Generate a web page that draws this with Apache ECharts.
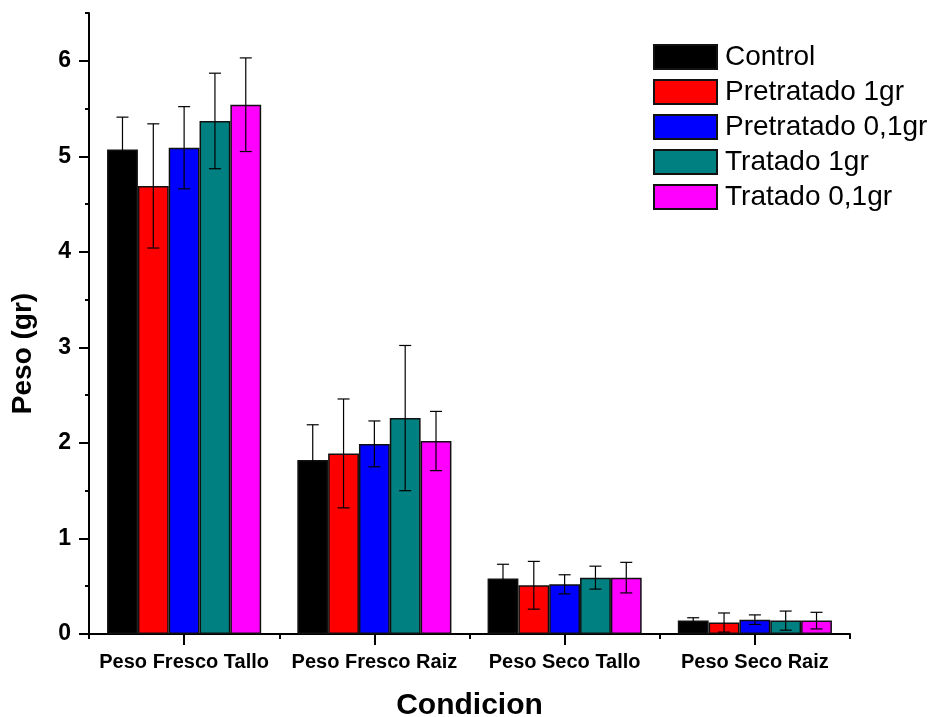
<!DOCTYPE html>
<html>
<head>
<meta charset="utf-8">
<title>Peso por condicion</title>
<script src="https://cdn.jsdelivr.net/npm/echarts@6/dist/echarts.min.js"></script>
<style>
  html, body { margin: 0; padding: 0; background: #fff; }
  #chart { width: 934px; height: 717px; }
</style>
</head>
<body>
<div id="chart"></div>
<script>
// datos
const categories = ['Peso Fresco Tallo', 'Peso Fresco Raiz', 'Peso Seco Tallo', 'Peso Seco Raiz']
const seriesNames = ['Control', 'Pretratado 1gr', 'Pretratado 0,1gr', 'Tratado 1gr', 'Tratado 0,1gr']
const control = [5.07, 1.82, 0.58, 0.14]
const controlErr = [0.34, 0.37, 0.15, 0.03]
const pre1 = [4.69, 1.89, 0.51, 0.12]
const pre1Err = [0.65, 0.57, 0.25, 0.1]
const pre01 = [5.09, 1.99, 0.52, 0.15]
const pre01Err = [0.43, 0.24, 0.1, 0.05]
const trat1 = [5.37, 2.26, 0.59, 0.14]
const trat1Err = [0.5, 0.76, 0.12, 0.1]
const trat01 = [5.54, 2.02, 0.59, 0.14]
const trat01Err = [0.49, 0.31, 0.16, 0.087]
const yTicks = [0, 1, 2, 3, 4, 5, 6]
const yMinorTicks = [0.5, 1.5, 2.5, 3.5, 4.5, 5.5, 6.5]

const values = [control, pre1, pre01, trat1, trat01]
const errors = [controlErr, pre1Err, pre01Err, trat1Err, trat01Err]
const colors = ['#000000', '#ff0000', '#0000ff', '#008080', '#ff00ff']
const catGap = 0.19
const font = 'Liberation Sans, Arial, Helvetica, sans-serif'

const chart = echarts.init(document.getElementById('chart'))

// barra de error simetrica, desplazada segun la posicion de la barra en el grupo
function errorRenderer (idx) {
  return function (params, api) {
    const ci = api.value(0)
    const v = api.value(1)
    const e = api.value(2)
    const band = api.size([1, 0])[0]
    const barW = band * (1 - catGap) / values.length
    const x = api.coord([ci, 0])[0] + (idx - (values.length - 1) / 2) * barW
    const yTop = api.coord([ci, v + e])[1]
    const yBot = api.coord([ci, v - e])[1]
    const cap = 6
    const style = { stroke: '#000', lineWidth: 1.2 }
    return {
      type: 'group',
      children: [
        { type: 'line', shape: { x1: x, y1: yTop, x2: x, y2: yBot }, style },
        { type: 'line', shape: { x1: x - cap, y1: yTop, x2: x + cap, y2: yTop }, style },
        { type: 'line', shape: { x1: x - cap, y1: yBot, x2: x + cap, y2: yBot }, style }
      ]
    }
  }
}

const barSeries = seriesNames.map((name, i) => ({
  name: name,
  type: 'bar',
  xAxisIndex: 0,
  yAxisIndex: 0,
  data: values[i],
  barGap: '0%',
  barCategoryGap: (catGap * 100) + '%',
  itemStyle: {
    color: colors[i],
    borderColor: '#111',
    borderWidth: 1.5
  },
  emphasis: { disabled: true },
  z: 2
}))

const errSeries = seriesNames.map((name, i) => ({
  type: 'custom',
  xAxisIndex: 0,
  yAxisIndex: 0,
  renderItem: errorRenderer(i),
  encode: { x: 0, y: 1 },
  data: values[i].map((v, k) => [k, v, errors[i][k]]),
  z: 5,
  silent: true
}))

const option = {
  backgroundColor: '#fff',
  animation: false,
  textStyle: { fontFamily: font },
  grid: { left: 89, right: 84, top: 13, bottom: 83, outerBoundsMode: 'none', containLabel: false },
  legend: {
    data: seriesNames,
    orient: 'vertical',
    left: 648,
    top: 38,
    itemWidth: 63,
    itemHeight: 24,
    itemGap: 7,
    icon: 'rect',
    selectedMode: false,
    textStyle: { fontSize: 28, color: '#000', fontFamily: font, padding: [0, 0, 0, 3] }
  },
  xAxis: [
    {
      type: 'category',
      data: categories,
      name: 'Condicion',
      nameLocation: 'middle',
      nameGap: 57,
      nameTextStyle: { fontSize: 30, fontWeight: 'bold', color: '#000', fontFamily: font },
      axisLine: { lineStyle: { color: '#000', width: 2 } },
      axisTick: { show: true, alignWithLabel: true, length: 11, lineStyle: { color: '#000', width: 2 } },
      axisLabel: { interval: 0, fontSize: 20, fontWeight: 'bold', color: '#000', margin: 18, fontFamily: font }
    },
    {
      type: 'category',
      data: categories,
      position: 'bottom',
      axisLine: { show: true, lineStyle: { color: 'rgba(0,0,0,0)' } },
      axisTick: { show: true, length: 5, lineStyle: { color: '#000', width: 2 } },
      axisLabel: { show: false }
    }
  ],
  yAxis: [
    {
      type: 'value',
      min: 0,
      max: 6.5,
      name: 'Peso (gr)',
      nameLocation: 'middle',
      nameGap: 52,
      nameTextStyle: { fontSize: 28, fontWeight: 'bold', color: '#000', fontFamily: font, padding: [0, 60, 0, 0] },
      splitLine: { show: false },
      axisLine: { show: true, lineStyle: { color: '#000', width: 2 } },
      axisTick: { show: true, length: 10, customValues: yTicks, lineStyle: { color: '#000', width: 2 } },
      axisLabel: { fontSize: 23, fontWeight: 'bold', color: '#000', margin: 18, customValues: yTicks, fontFamily: font }
    },
    {
      type: 'value',
      min: 0,
      max: 6.5,
      position: 'left',
      splitLine: { show: false },
      axisLine: { show: false },
      axisTick: { show: true, length: 4, customValues: yMinorTicks, lineStyle: { color: '#000', width: 2 } },
      axisLabel: { show: false }
    }
  ],
  series: barSeries.concat(errSeries)
}

chart.setOption(option)
</script>
</body>
</html>
